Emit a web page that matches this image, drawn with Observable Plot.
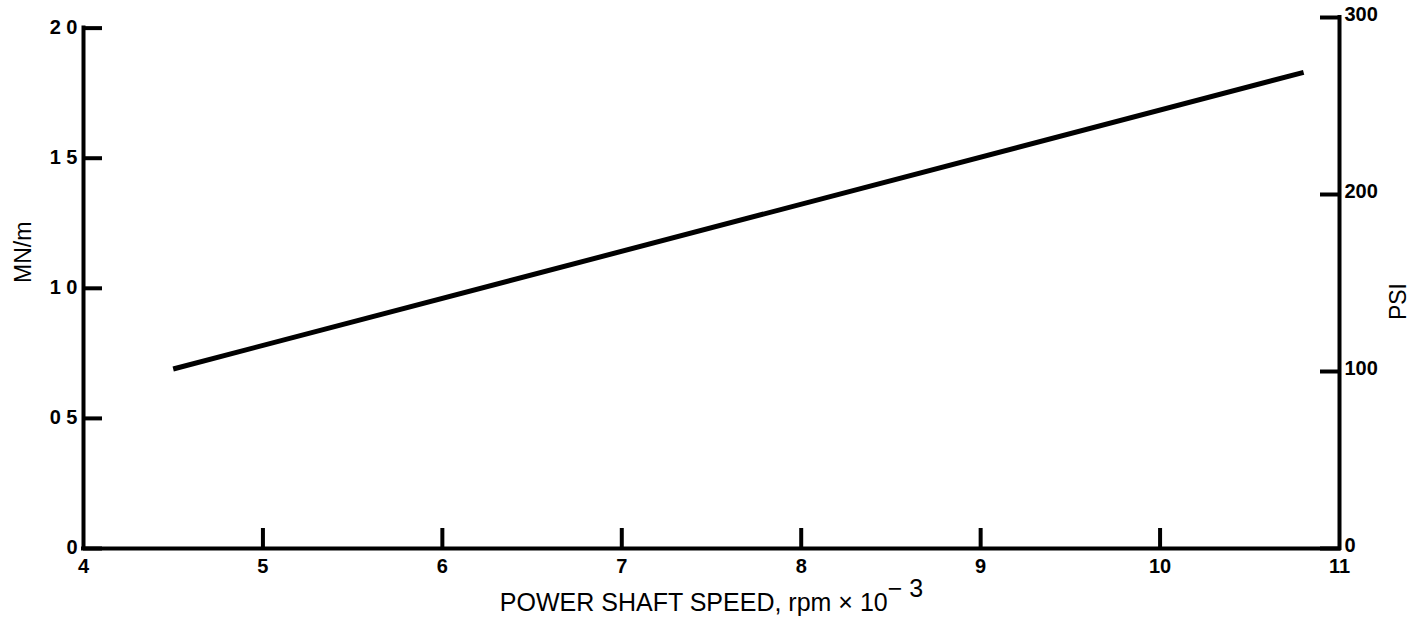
<!DOCTYPE html>
<html>
<head>
<meta charset="utf-8">
<script src="https://cdn.jsdelivr.net/npm/d3@7"></script>
<script src="https://cdn.jsdelivr.net/npm/@observablehq/plot@0.6"></script>
<style>
  html, body { margin: 0; padding: 0; background: #fff; }
  #chart svg { display: block; }
</style>
</head>
<body>
<div id="chart"></div>
<script>
// Data
const speed = [4.5, 10.8];            // power shaft speed, rpm x 10^-3
const pressureMN = [0.69, 1.83];      // MN/m
const xTickValues = [4, 5, 6, 7, 8, 9, 10, 11];
const xInnerTicks = [5, 6, 7, 8, 9, 10];
const leftTickValues = [0, 0.5, 1.0, 1.5, 2.0];
const leftTickLabels = ["0", "0 5", "1 0", "1 5", "2 0"];
const rightTickValues = [0, 100, 200, 300]; // PSI
const psiPerMN = 147;
const xTitle = "POWER SHAFT SPEED, rpm \u00d7 10";
const xTitleSup = "\u2212 3";
const leftTitle = "MN/m";
const rightTitle = "PSI";

const rows = speed.map((s, i) => ({speed: s, p: pressureMN[i]}));
const yTop = rightTickValues[rightTickValues.length - 1] / psiPerMN;
const leftTop = leftTickValues[leftTickValues.length - 1];
const rightTickPos = rightTickValues.map(v => v / psiPerMN);
const font = "'Liberation Sans', Arial, Helvetica, sans-serif";

const plot = Plot.plot({
  width: 1416,
  height: 631,
  marginLeft: 83,
  marginRight: 77,
  marginTop: 17,
  marginBottom: 83,
  style: {fontFamily: font, color: "#000", background: "#fff"},
  x: {domain: [xTickValues[0], xTickValues[xTickValues.length - 1]], label: null},
  y: {domain: [0, yTop], label: null},
  marks: [
    // frame lines
    Plot.ruleX([xTickValues[0]], {y1: 0, y2: leftTop, stroke: "#000", strokeWidth: 4, strokeLinecap: "square"}),
    Plot.ruleX([xTickValues[xTickValues.length - 1]], {y1: 0, y2: yTop, stroke: "#000", strokeWidth: 4, strokeLinecap: "square"}),
    Plot.ruleY([0], {x1: xTickValues[0], x2: xTickValues[xTickValues.length - 1], stroke: "#000", strokeWidth: 4, strokeLinecap: "square"}),
    // left axis: inward ticks, then labels
    Plot.axisY({anchor: "left", ticks: leftTickValues, tickSize: -19, tickFormat: () => "", strokeWidth: 4, label: null}),
    Plot.axisY({
      anchor: "left", ticks: leftTickValues, tickSize: 0, tickPadding: 6, dy: -1,
      tickFormat: d => leftTickLabels[leftTickValues.indexOf(d)],
      fontSize: 20, fontWeight: "bold", label: null
    }),
    // right axis (PSI): inward ticks, then labels
    Plot.axisY({anchor: "right", ticks: rightTickPos, tickSize: -20, tickFormat: () => "", strokeWidth: 4, label: null}),
    Plot.axisY({
      anchor: "right", ticks: rightTickPos, tickSize: 0, tickPadding: 5, dy: -3,
      tickFormat: d => String(Math.round(d * psiPerMN)),
      fontSize: 20, fontWeight: "bold", label: null
    }),
    // bottom axis: inward ticks
    Plot.axisX({anchor: "bottom", ticks: xInnerTicks, tickSize: -20, tickFormat: () => "", strokeWidth: 4, label: null}),
    // bottom axis labels
    Plot.axisX({anchor: "bottom", ticks: xTickValues, tickSize: 0, tickPadding: 10, tickFormat: d => String(d), fontSize: 20, fontWeight: "bold", label: null}),
    // data line
    Plot.line(rows, {x: "speed", y: "p", stroke: "#000", strokeWidth: 5, strokeLinecap: "butt"}),
    // titles
    Plot.text([xTitle], {frameAnchor: "bottom", dy: 54, fontSize: 25, fill: "#000", lineAnchor: "middle"}),
    Plot.text([leftTitle], {frameAnchor: "left", dx: -60, rotate: -90, fontSize: 23, fill: "#000"}),
    Plot.text([rightTitle], {frameAnchor: "right", dx: 59, rotate: -90, fontSize: 23, fill: "#000"})
  ]
});

document.getElementById("chart").appendChild(plot);

// superscript exponent on the x title
d3.select(plot).selectAll("text").filter(function() { return this.textContent === xTitle; })
  .each(function() {
    d3.select(this).append("tspan").attr("dy", "-0.55em").text(xTitleSup);
  });
</script>
</body>
</html>
